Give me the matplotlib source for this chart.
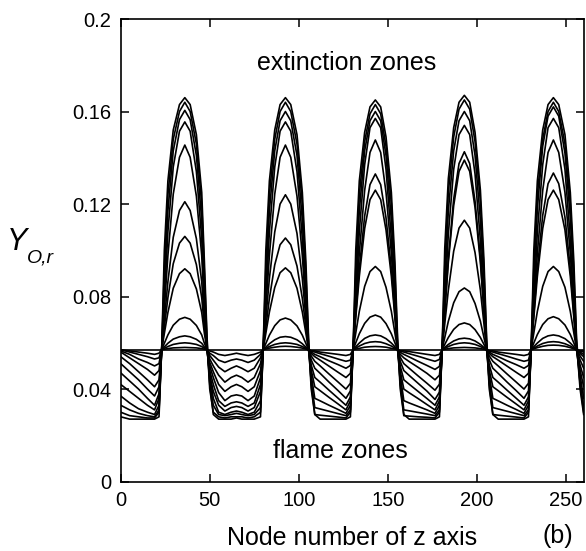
import numpy as np
import matplotlib
matplotlib.use("Agg")
import matplotlib.pyplot as plt

plt.rcParams["font.family"] = ["Liberation Sans", "DejaVu Sans"]

# node positions along z (shared by the evolving profiles)
NODES = [0, 5, 10, 15, 19,
         21.5, 23, 24.5, 26.5, 29.5, 33, 36, 39, 42.5, 45.5, 47, 48.5, 50, 52,
         55, 58.5, 62, 65, 68, 71.5, 75,
         78.5, 80, 81.5, 83.5, 86.5, 89.5, 92.5, 95.5, 99, 102, 104, 105.5, 107, 109,
         112, 117, 122, 126.5,
         129, 130.5, 132, 134, 137, 140, 143, 146, 149, 152, 154, 155.5, 157, 159,
         162, 167, 172, 176.5,
         179, 180.5, 182, 184, 187, 190, 193, 196, 199, 202, 204, 205.5, 207, 209,
         212, 217, 222, 226.5,
         229, 230.5, 232, 234, 237, 240, 243, 246, 249.5, 252.5, 254.5, 256, 258, 260]

# initial (flat) profile
FLAT_NODES = [0, 260]
Y_00 = [57, 57]

# Y_O,r x 1000, one list per profile
Y_01 = [57, 56.5, 56, 55.5, 55,
        55.5, 57, 57.2, 57.5, 57.8, 57.9, 58, 57.9, 57.8, 57.5, 57.2, 57, 56.5, 56,
        55, 54.5, 55, 55.5, 55, 54.5, 55,
        56, 57, 57.3, 57.7, 58.1, 58.4, 58.5, 58.4, 58.1, 57.7, 57.3, 57, 56.5, 56.5,
        56, 55.5, 55, 54.5,
        55, 57, 57.3, 57.6, 58.1, 58.3, 58.4, 58.3, 58.1, 57.6, 57.3, 57, 56.5, 56.5,
        56.2, 55.6, 55, 54.5,
        55, 57, 57.2, 57.5, 57.8, 57.9, 58, 57.9, 57.8, 57.5, 57.2, 57, 56.5, 56.5,
        56, 55.5, 55, 54.5,
        55, 57, 57.4, 57.9, 58.5, 58.9, 59, 58.9, 58.5, 57.9, 57.4, 57, 56.5, 56.5]
Y_02 = [57, 56, 55, 54, 53,
        53.5, 57, 57.6, 58.4, 59.3, 59.8, 60, 59.8, 59.3, 58.4, 57.6, 57, 55.5, 54.5,
        52.5, 51.5, 52.5, 53, 52.5, 51.5, 52.5,
        55, 57, 57.6, 58.4, 59.3, 59.8, 60, 59.8, 59.3, 58.4, 57.6, 57, 56.5, 56,
        55.3, 54.2, 53, 52,
        52.5, 57, 57.7, 58.6, 59.7, 60.3, 60.5, 60.3, 59.6, 58.6, 57.7, 57, 56.5, 56,
        55.3, 54.2, 53, 52,
        52.8, 57, 57.6, 58.4, 59.3, 59.8, 60, 59.8, 59.3, 58.4, 57.6, 57, 56.5, 56,
        55.3, 54.2, 53, 52,
        52.5, 57, 57.7, 58.6, 59.7, 60.3, 60.5, 60.3, 59.6, 58.6, 57.7, 57, 56.5, 56]
Y_03 = [56.5, 55, 53, 51.5, 50,
        51, 57, 58.2, 59.8, 61.6, 62.6, 63, 62.6, 61.5, 59.8, 58.2, 57, 54.5, 52.5,
        49.5, 47.5, 49, 50, 49, 47.5, 49,
        53.5, 57, 58.1, 59.6, 61.3, 62.4, 62.7, 62.4, 61.3, 59.6, 58.1, 57, 56, 55,
        54, 52.2, 50.6, 49,
        50.2, 57, 58.3, 59.9, 61.9, 63, 63.4, 63, 61.8, 59.9, 58.3, 57, 55.9, 55,
        53.9, 52, 50.2, 48.5,
        49.8, 57, 58, 59.3, 60.8, 61.7, 62, 61.7, 60.8, 59.3, 58, 57, 56, 55,
        54, 52.2, 50.6, 49,
        50.2, 57, 58.3, 59.9, 61.9, 63, 63.4, 63, 61.8, 59.9, 58.3, 57, 56, 55]
Y_04 = [56, 53.5, 51, 48.5, 46,
        48, 57, 59.8, 63.4, 67.6, 70.2, 71, 70.2, 67.5, 63.4, 59.8, 57, 53, 50,
        46, 43, 45, 46, 45, 43, 45,
        51, 57, 59.7, 63.3, 67.4, 69.9, 70.7, 69.9, 67.3, 63.3, 59.7, 57, 55.4, 54,
        52.5, 49.9, 47.3, 45,
        46.8, 57, 60, 63.9, 68.4, 71.1, 72, 71.1, 68.3, 63.9, 60, 57, 55, 53.5,
        51.9, 49.4, 46.8, 44,
        46, 57, 59.3, 62.3, 65.8, 67.9, 68.6, 67.9, 65.7, 62.3, 59.3, 57, 55.4, 54,
        52.5, 49.9, 47.3, 45,
        46.8, 57, 59.9, 63.6, 67.9, 70.4, 71.3, 70.4, 67.7, 63.6, 59.9, 57, 55.4, 54]
Y_05 = [54, 51, 47.5, 44, 41,
        44, 57, 64, 73.1, 83.6, 89.9, 92, 89.9, 83.3, 73.1, 64, 57, 51.5, 47.5,
        42, 39, 41, 42, 41, 39, 41,
        48, 57, 64.1, 73.3, 83.9, 90.3, 92.4, 90.3, 83.6, 73.3, 64.1, 57, 54.3, 52,
        50, 46.5, 43.1, 40,
        42.5, 57, 64.2, 73.6, 84.4, 90.8, 93, 90.8, 84, 73.6, 64.2, 57, 53.7, 51,
        49, 45.7, 42.5, 39.5,
        42.1, 57, 62.3, 69.3, 77.3, 82.1, 83.7, 82.1, 77, 69.3, 62.3, 57, 54.3, 52,
        50, 46.5, 43.1, 40,
        42.5, 57, 64.2, 73.6, 84.4, 90.8, 93, 90.8, 84, 73.6, 64.2, 57, 54.3, 52]
Y_06 = [51, 47.5, 44, 40, 37,
        41, 57, 66.8, 79.5, 94.2, 103.1, 106, 103.1, 93.8, 79.5, 66.8, 57, 50, 45,
        38.5, 35, 37, 37.5, 37, 35, 37,
        45, 57, 66.7, 79.2, 93.7, 102.4, 105.3, 102.4, 93.2, 79.2, 66.7, 57, 52.6, 49,
        46.8, 43, 39.4, 36,
        39.2, 57, 70.8, 88.7, 109.4, 121.9, 126, 121.9, 108.8, 88.7, 70.8, 57, 52, 48,
        45.9, 42.5, 39.1, 35.5,
        38.7, 57, 68.2, 82.8, 99.6, 109.6, 113, 109.6, 99, 82.8, 68.2, 57, 52.6, 49,
        46.8, 43, 39.4, 36,
        39.2, 57, 70.8, 88.7, 109.4, 121.9, 126, 121.9, 108.8, 88.7, 70.8, 57, 52.6, 49]
Y_07 = [47, 43.5, 40, 36, 33,
        38, 57, 69.8, 86.4, 105.6, 117.2, 121, 117.2, 105, 86.4, 69.8, 57, 48, 42,
        35, 32.5, 34, 34.5, 34, 32.5, 34,
        42, 57, 70.4, 87.8, 107.9, 120, 124, 120, 107.3, 87.8, 70.4, 57, 50.4, 45,
        43, 39.5, 36.1, 33,
        36.6, 57, 72.2, 92, 114.8, 128.4, 133, 128.4, 114, 92, 72.2, 57, 49.9, 44,
        42.1, 39, 35.9, 33,
        36.6, 57, 73.4, 94.7, 119.3, 134.1, 139, 134.1, 118.5, 94.7, 73.4, 57, 50.4, 45,
        43, 39.5, 36.1, 33,
        36.6, 57, 72.3, 92.1, 115.1, 128.8, 133.4, 128.8, 114.3, 92.1, 72.3, 57, 50.4, 45]
Y_08 = [42, 39, 36, 33, 31,
        36, 57, 74.7, 97.7, 124.3, 140.2, 145.5, 140.2, 123.4, 97.7, 74.7, 57, 46, 39,
        33, 30.5, 32, 32.5, 32, 30.5, 32,
        39, 57, 74.7, 97.7, 124.3, 140.2, 145.5, 140.2, 123.4, 97.7, 74.7, 57, 48.2, 41,
        39.3, 36.4, 33.6, 31,
        34.9, 57, 75.1, 98.7, 125.9, 142.3, 147.7, 142.3, 125, 98.7, 75.1, 57, 47.7, 40,
        38.4, 35.9, 33.3, 31,
        34.9, 57, 74.1, 96.4, 122.1, 137.5, 142.6, 137.5, 121.2, 96.4, 74.1, 57, 48.2, 41,
        39.3, 36.4, 33.6, 31,
        34.9, 57, 75.1, 98.7, 125.9, 142.3, 147.7, 142.3, 125, 98.7, 75.1, 57, 48.2, 41]
Y_09 = [37, 34, 31.5, 30, 29,
        33, 57, 78, 108, 136, 151.5, 155.5, 151.5, 134, 105, 76, 57, 46, 36,
        30, 29, 30, 30.5, 30, 29, 30,
        35, 57, 78, 108, 136, 151.5, 155.5, 151.5, 134, 105, 76, 57, 46, 36,
        34.9, 33, 31.2, 29.5,
        33, 57, 78, 108, 137, 153, 157, 153, 135, 105, 76, 57, 46, 35,
        34, 32.5, 31, 29.5,
        33, 57, 78, 107, 135, 150, 154, 150, 133, 104, 76, 57, 46, 36,
        34.9, 33, 31.2, 29.5,
        33, 57, 78, 108, 137, 153, 157, 153, 135, 105, 76, 57, 46, 36]
Y_10 = [33, 31, 29.5, 28.5, 28,
        31, 57, 85, 117, 143, 156.5, 160.5, 156.5, 141, 113, 84, 58, 43, 33,
        29, 28.5, 29, 29.5, 29, 28.5, 29,
        32, 57, 85, 117, 143, 156, 160, 156, 141, 113, 84, 58, 43, 32,
        31.4, 30.4, 29.4, 28.5,
        31, 57, 85, 117, 143, 156, 160, 156, 141, 113, 84, 58, 43, 31,
        30.6, 29.9, 29.2, 28.5,
        31, 57, 85, 117, 143, 156, 160, 156, 141, 113, 84, 58, 43, 32,
        31.4, 30.4, 29.4, 28.5,
        31, 57, 86, 118, 145, 158, 162, 158, 142, 114, 85, 58, 43, 32]
Y_11 = [30, 28.5, 28, 27.5, 27.5,
        30, 57, 92, 124, 148, 160, 164, 160, 146, 120, 90, 60, 40, 30,
        28, 27.5, 28, 28, 28, 27.5, 28,
        30, 57, 92, 124, 148, 160, 164, 160, 146, 120, 90, 60, 40, 29,
        28.7, 28.3, 27.9, 27.5,
        30, 57, 92, 124, 147, 159, 163, 159, 145, 120, 90, 60, 40, 28.5,
        28.3, 28, 27.8, 27.5,
        30, 57, 93, 125, 149, 161, 165, 161, 147, 121, 91, 60, 40, 29,
        28.7, 28.3, 27.9, 27.5,
        30, 57, 92, 124, 148, 160, 164, 160, 146, 120, 90, 60, 40, 29]
Y_12 = [28, 27, 27, 27, 27,
        28, 57, 100, 130, 152, 163, 166, 163, 150, 125, 95, 62, 42, 29,
        27, 27, 27, 27.5, 27, 27, 27,
        28, 57, 100, 130, 152, 163, 166, 163, 150, 125, 95, 62, 42, 29,
        27, 27, 27, 27,
        28, 57, 100, 130, 151, 162, 165, 162, 149, 125, 95, 62, 42, 29,
        27, 27, 27, 27,
        28, 57, 101, 131, 153, 164, 167, 164, 151, 126, 96, 62, 42, 29,
        27, 27, 27, 27,
        28, 57, 100, 130, 152, 163, 166, 163, 150, 125, 95, 62, 42, 30]

PROFILES = [Y_01, Y_02, Y_03, Y_04, Y_05, Y_06, Y_07, Y_08, Y_09, Y_10, Y_11, Y_12]

X_TICKS = [0, 50, 100, 150, 200, 250]
Y_TICKS = [0, 0.04, 0.08, 0.12, 0.16, 0.2]

fig = plt.figure(figsize=(5.86, 5.51), dpi=100)
ax = fig.add_axes([0.206, 0.126, 0.79, 0.8395])

ax.plot(FLAT_NODES, np.array(Y_00) / 1000, color="black", lw=1.2)
for prof in PROFILES:
    ax.plot(NODES, np.array(prof) / 1000, color="black", lw=1.2)

ax.set_xlim(0, 260)
ax.set_ylim(0, 0.2)
ax.set_xticks(X_TICKS)
ax.set_yticks(Y_TICKS)
ax.set_yticklabels([f"{v:g}" for v in Y_TICKS])
ax.tick_params(direction="in", length=6, width=1.1, top=True, right=True,
               labelsize=14.5, pad=7)
for sp in ax.spines.values():
    sp.set_linewidth(1.2)

ax.set_xlabel("Node number of z axis", fontsize=18, labelpad=11)
ax.text(127, 0.181, "extinction zones", fontsize=18, ha="center", va="center")
ax.text(123.5, 0.0133, "flame zones", fontsize=18, ha="center", va="center")
fig.text(0.952, 0.014, "(b)", fontsize=18, ha="center", va="baseline")

# axis label: italic Y with smaller italic subscript O,r
fig.text(0.012, 0.547, "Y", fontsize=22, style="italic", ha="left", va="baseline")
fig.text(0.046, 0.523, "O,r", fontsize=14, style="italic", ha="left", va="baseline")

fig.savefig("out.png", dpi=100)
